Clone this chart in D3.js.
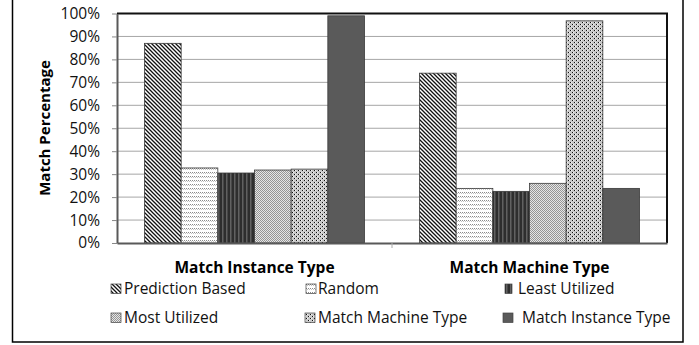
<!DOCTYPE html>
<html><head><meta charset="utf-8">
<script src="https://cdn.jsdelivr.net/npm/d3@7"></script>
<style>body{margin:0;background:#fff}svg{display:block;font-family:"Open Sans",sans-serif}</style>
</head><body>
<svg id="c" width="699" height="345"></svg>
<script>
const categories = ["Match Instance Type", "Match Machine Type"];
const seriesNames = ["Prediction Based", "Random", "Least Utilized", "Most Utilized", "Match Machine Type", "Match Instance Type"];
const predictionBased = [87, 74];
const randomVals = [32.7, 23.8];
const leastUtilized = [30.5, 22.5];
const mostUtilized = [31.8, 26];
const matchMachineType = [32.2, 96.8];
const matchInstanceType = [99, 23.8];
const yTicks = [0, 10, 20, 30, 40, 50, 60, 70, 80, 90, 100];
const seriesValues = [predictionBased, randomVals, leastUtilized, mostUtilized, matchMachineType, matchInstanceType];
const patIds = ["pPred", "pRand", "pLeast", "pMost", "pMMT", "pMIT"];

const svg = d3.select("#c");
const defs = svg.append("defs");
function pat(id, w, h, draw) {
  const p = defs.append("pattern").attr("id", id).attr("patternUnits", "userSpaceOnUse").attr("width", w).attr("height", h);
  draw(p);
}
pat("pPred", 4, 4, p => {
  p.append("rect").attr("width", 4).attr("height", 4).attr("fill", "#fff");
  p.append("path").attr("d", "M0,0L4,4M-1,3L1,5M3,-1L5,1").attr("stroke", "#111").attr("stroke-width", 1.3);
});
pat("pRand", 4, 4, p => {
  p.append("rect").attr("width", 4).attr("height", 4).attr("fill", "#fff");
  [[0,0],[2,0],[1,1],[3,1]].forEach(([x,y]) => p.append("rect").attr("x", x).attr("y", y).attr("width", 1).attr("height", 1).attr("fill", y === 0 ? "#8a8a8a" : "#c4c4c4"));
});
pat("pLeast", 4, 4, p => {
  p.append("rect").attr("width", 4).attr("height", 4).attr("fill", "#2e2e2e");
  p.append("rect").attr("x", 2).attr("width", 1.5).attr("height", 4).attr("fill", "#616161");
});
pat("pMost", 2, 2, p => {
  p.append("rect").attr("width", 2).attr("height", 2).attr("fill", "#e6e6e6");
  p.append("rect").attr("width", 1).attr("height", 1).attr("fill", "#959595");
  p.append("rect").attr("x", 1).attr("y", 1).attr("width", 1).attr("height", 1).attr("fill", "#959595");
});
pat("pMMT", 4, 4, p => {
  p.append("rect").attr("width", 4).attr("height", 4).attr("fill", "#c8c8c8");
  [[0,0],[2,2]].forEach(([x,y]) => p.append("rect").attr("x", x).attr("y", y).attr("width", 1).attr("height", 1).attr("fill", "#111"));
  [[1,0],[3,2]].forEach(([x,y]) => p.append("rect").attr("x", x).attr("y", y).attr("width", 1).attr("height", 1).attr("fill", "#f4f4f4"));
});
pat("pMIT", 4, 4, p => {
  p.append("rect").attr("width", 4).attr("height", 4).attr("fill", "#5a5a5a");
});

// outer frame
svg.append("rect").attr("x", 12.5).attr("y", -2).attr("width", 670.5).attr("height", 344).attr("fill", "none").attr("stroke", "#000").attr("stroke-width", 1.5);

const m = {l: 117, r: 667, t: 13.5, b: 243};
const x0 = d3.scaleBand().domain(categories).range([m.l, m.r]).paddingInner(0.2).paddingOuter(0.1);
const x1 = d3.scaleBand().domain(seriesNames).range([0, x0.bandwidth()]);
const y = d3.scaleLinear().domain([0, 100]).range([m.b, m.t]);

// gridlines
svg.append("g").selectAll("line").data(yTicks.filter(d => d > 0 && d < 100)).join("line")
  .attr("x1", m.l).attr("x2", m.r).attr("y1", d => y(d)).attr("y2", d => y(d))
  .attr("stroke", "#a6a6a6").attr("stroke-width", 1);

// bars
categories.forEach((c, ci) => {
  svg.append("g").selectAll("rect").data(seriesNames).join("rect")
    .attr("x", s => x0(c) + x1(s))
    .attr("width", x1.bandwidth())
    .attr("y", (s, si) => y(seriesValues[si][ci]))
    .attr("height", (s, si) => y(0) - y(seriesValues[si][ci]))
    .attr("fill", (s, si) => `url(#${patIds[si]})`)
    .attr("stroke", "#3a3a3a").attr("stroke-width", 0.8);
});

// plot border top/right
svg.append("path").attr("d", `M${m.l},${m.t}H${m.r}V${m.b}`).attr("fill", "none").attr("stroke", "#111").attr("stroke-width", 2);

// y axis
const ya = svg.append("g").attr("transform", `translate(${m.l},0)`)
  .call(d3.axisLeft(y).tickValues(yTicks).tickFormat(d => d + "%").tickSize(5).tickSizeOuter(0));
ya.select(".domain").attr("stroke", "#595959").attr("stroke-width", 2);
ya.selectAll(".tick line").attr("stroke", "#888");
ya.selectAll(".tick text").attr("font-family", "Open Sans").attr("font-size", 15.5).attr("fill", "#111").attr("x", -17);

// x axis
const xa = svg.append("g").attr("transform", `translate(0,${m.b})`)
  .call(d3.axisBottom(x0).tickSize(0).tickSizeOuter(0));
xa.select(".domain").attr("stroke", "#595959").attr("stroke-width", 2);
xa.selectAll(".tick text").attr("font-family", "Open Sans").attr("font-size", 15.5).attr("font-weight", "bold").attr("fill", "#000").attr("dy", 0).attr("y", 30);
// mid tick between categories
svg.append("line").attr("x1", (x0(categories[0]) + x0.bandwidth() + x0(categories[1])) / 2)
  .attr("x2", (x0(categories[0]) + x0.bandwidth() + x0(categories[1])) / 2)
  .attr("y1", m.b).attr("y2", m.b + 5).attr("stroke", "#aaa");

// y label
svg.append("text").attr("transform", "translate(50,128) rotate(-90)").attr("text-anchor", "middle")
  .attr("font-size", 15).attr("font-weight", "bold").attr("fill", "#000").text("Match Percentage");

// legend
const legendPos = [[111, 294], [306, 294], [505, 294], [111, 323], [305, 323], [503, 323]];
const textX = [124, 318, 518, 124, 318, 522];
const lg = svg.append("g");
seriesNames.forEach((s, i) => {
  const [lx, ly] = legendPos[i];
  lg.append("rect").attr("x", lx).attr("y", ly - 10).attr("width", i === 2 ? 7 : 10).attr("height", 9.5)
    .attr("fill", `url(#${patIds[i]})`).attr("stroke", "#444").attr("stroke-width", 0.7);
  lg.append("text").attr("x", textX[i]).attr("y", ly).attr("font-size", 15.5).attr("fill", "#111").text(s);
});
</script>
</body></html>
